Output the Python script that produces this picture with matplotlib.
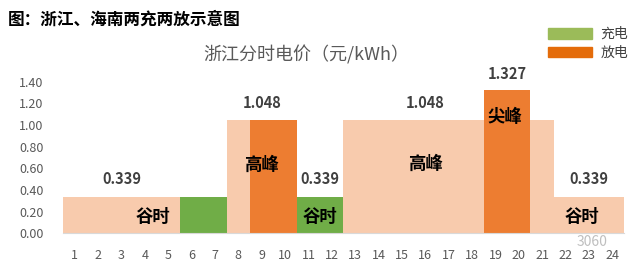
import matplotlib
matplotlib.use("Agg")
import matplotlib.pyplot as plt
from matplotlib.patches import Patch

plt.rcParams["font.family"] = ["Noto Sans CJK SC", "DejaVu Sans"]

PEACH = "#F8CBAD"
GREEN = "#70AD47"
ORANGE = "#ED7D31"
LEG_GREEN = "#9BBB59"
LEG_ORANGE = "#E46C0A"
GRAY = "#595959"

hours = list(range(1, 25))
price = [0.339, 0.339, 0.339, 0.339, 0.339, 0.339, 0.339,
         1.048, 1.048, 1.048, 0.339, 0.339,
         1.048, 1.048, 1.048, 1.048, 1.048, 1.048,
         1.327, 1.327, 1.048, 0.339, 0.339, 0.339]
charge_hours = [6, 7, 11, 12]
discharge_hours = [9, 10, 19, 20]

# value labels: (x, y, text)
value_labels = [(3, 0.50, "0.339"), (9, 1.205, "1.048"), (11.5, 0.50, "0.339"),
                (16, 1.205, "1.048"), (19.5, 1.47, "1.327"), (23, 0.50, "0.339")]
period_labels = [(4.35, 0.15, "谷时"), (9, 0.63, "高峰"), (11.5, 0.15, "谷时"),
                 (16, 0.64, "高峰"), (19.4, 1.07, "尖峰"), (22.7, 0.15, "谷时")]

fig = plt.figure(figsize=(6.28, 2.65), dpi=100)
ax = fig.add_axes([0.1003, 0.1196, 0.8933, 0.5721])

colors = []
for h in hours:
    if h in charge_hours:
        colors.append(GREEN)
    elif h in discharge_hours:
        colors.append(ORANGE)
    else:
        colors.append(PEACH)
ax.bar(hours, price, width=1.0, color=colors, linewidth=0)

for x, y, s in value_labels:
    ax.text(x, y, s, ha="center", va="center", fontsize=10.5, fontweight="bold",
            color="#404040")
for x, y, s in period_labels:
    ax.text(x, y, s, ha="center", va="center", fontsize=12.5, fontweight="bold",
            color="black")

ax.set_xlim(0.5, 24.5)
ax.set_ylim(0, 1.4)
ax.set_xticks(hours)
ax.set_yticks([0, 0.2, 0.4, 0.6, 0.8, 1.0, 1.2, 1.4])
ax.set_yticklabels([f"{v:.2f}" for v in ax.get_yticks()])
ax.tick_params(axis="both", length=0, labelsize=9, colors=GRAY)
ax.tick_params(axis="x", pad=11)
ax.tick_params(axis="y", pad=14)
for sp in ["top", "right", "left"]:
    ax.spines[sp].set_visible(False)
ax.spines["bottom"].set_color("#D9D9D9")

fig.text(0.012, 0.925, "图：浙江、海南两充两放示意图", fontsize=12, fontweight="bold",
         ha="left", va="center", color="black")
fig.text(0.488, 0.792, "浙江分时电价（元/kWh）", fontsize=13, ha="center",
         va="center", color=GRAY)

handles = [Patch(color=LEG_GREEN, label="充电"), Patch(color=LEG_ORANGE, label="放电")]
fig.legend(handles=handles, loc="upper left", bbox_to_anchor=(0.852, 0.945),
           frameon=False, fontsize=10, handlelength=3.2, handleheight=0.8,
           handletextpad=0.6, labelspacing=0.35, labelcolor="#404040")

fig.text(0.942, 0.087, "3060", fontsize=10, color="#BFBFBF", ha="center",
         va="center")

fig.savefig("out.png", dpi=100)
